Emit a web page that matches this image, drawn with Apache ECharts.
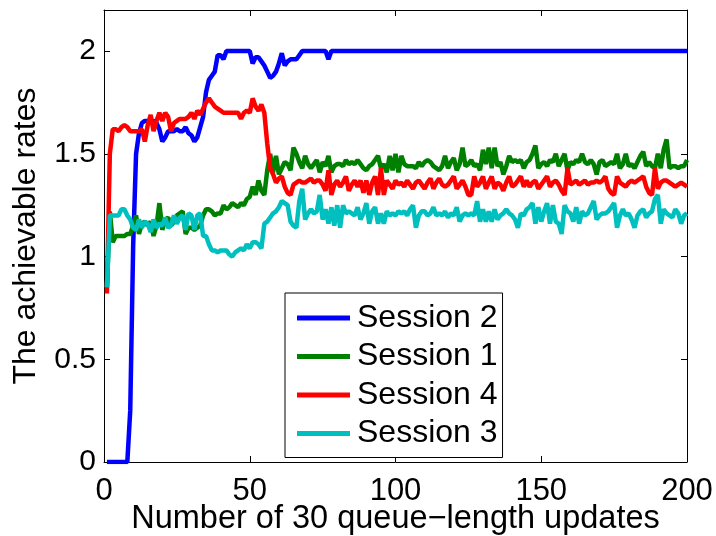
<!DOCTYPE html>
<html>
<head>
<meta charset="utf-8">
<script src="https://cdn.jsdelivr.net/npm/echarts@6.0.0/dist/echarts.min.js"></script>
<style>
  html, body { margin: 0; padding: 0; background: #fff; }
  #chart { width: 716px; height: 536px; }
</style>
</head>
<body>
<div id="chart"></div>
<script>
// achievable rate per session, one value per update step (x = 1..200)
const session2 = [
  0, 0, 0, 0, 0, 0, 0, 0, 0.25, 1.05,
  1.50, 1.60, 1.65, 1.66, 1.66, 1.66, 1.66, 1.65, 1.62, 1.56,
  1.58, 1.61, 1.61, 1.61, 1.62, 1.61, 1.61, 1.63, 1.60, 1.59,
  1.56, 1.58, 1.63, 1.68, 1.80, 1.86, 1.88, 1.90, 1.98, 1.98,
  1.96, 2, 2, 2, 2, 2, 2, 2, 2, 2,
  1.94, 1.97, 1.97, 1.95, 1.93, 1.90, 1.87, 1.88, 1.90, 1.94,
  1.99, 1.93, 1.95, 1.96, 1.96, 1.96, 1.98, 2, 2, 2,
  2, 2, 2, 2, 2, 2, 1.96, 2, 2, 2,
  2, 2, 2, 2, 2, 2, 2, 2, 2, 2,
  2, 2, 2, 2, 2, 2, 2, 2, 2, 2,
  2, 2, 2, 2, 2, 2, 2, 2, 2, 2,
  2, 2, 2, 2, 2, 2, 2, 2, 2, 2,
  2, 2, 2, 2, 2, 2, 2, 2, 2, 2,
  2, 2, 2, 2, 2, 2, 2, 2, 2, 2,
  2, 2, 2, 2, 2, 2, 2, 2, 2, 2,
  2, 2, 2, 2, 2, 2, 2, 2, 2, 2,
  2, 2, 2, 2, 2, 2, 2, 2, 2, 2,
  2, 2, 2, 2, 2, 2, 2, 2, 2, 2,
  2, 2, 2, 2, 2, 2, 2, 2, 2, 2,
  2, 2, 2, 2, 2, 2, 2, 2, 2, 2
];

const session1 = [
  0.85, 1.22, 1.07, 1.10, 1.10, 1.10, 1.10, 1.11, 1.11, 1.15,
  1.20, 1.11, 1.16, 1.17, 1.15, 1.17, 1.10, 1.15, 1.26, 1.13,
  1.18, 1.19, 1.15, 1.17, 1.20, 1.21, 1.22, 1.11, 1.14, 1.14,
  1.13, 1.14, 1.15, 1.20, 1.23, 1.23, 1.22, 1.20, 1.21, 1.21,
  1.25, 1.23, 1.24, 1.26, 1.25, 1.24, 1.26, 1.25, 1.28, 1.29,
  1.34, 1.30, 1.37, 1.32, 1.30, 1.42, 1.50, 1.41, 1.49, 1.40,
  1.43, 1.46, 1.45, 1.42, 1.53, 1.50, 1.46, 1.43, 1.49, 1.45,
  1.43, 1.45, 1.47, 1.41, 1.46, 1.44, 1.49, 1.41, 1.44, 1.45,
  1.45, 1.44, 1.47, 1.45, 1.46, 1.45, 1.47, 1.45, 1.43, 1.42,
  1.44, 1.45, 1.47, 1.49, 1.43, 1.45, 1.41, 1.49, 1.42, 1.50,
  1.41, 1.49, 1.45, 1.44, 1.44, 1.44, 1.43, 1.46, 1.44, 1.46,
  1.47, 1.46, 1.44, 1.43, 1.42, 1.44, 1.49, 1.43, 1.46, 1.48,
  1.42, 1.45, 1.53, 1.44, 1.45, 1.47, 1.44, 1.45, 1.42, 1.52,
  1.45, 1.53, 1.43, 1.53, 1.44, 1.46, 1.40, 1.44, 1.49, 1.46,
  1.47, 1.46, 1.47, 1.43, 1.46, 1.47, 1.50, 1.54, 1.43, 1.45,
  1.46, 1.44, 1.47, 1.46, 1.50, 1.44, 1.47, 1.50, 1.42, 1.46,
  1.45, 1.47, 1.46, 1.50, 1.46, 1.45, 1.47, 1.45, 1.40, 1.46,
  1.47, 1.44, 1.45, 1.46, 1.45, 1.50, 1.43, 1.45, 1.50, 1.44,
  1.45, 1.43, 1.46, 1.49, 1.51, 1.44, 1.46, 1.44, 1.43, 1.50,
  1.43, 1.52, 1.57, 1.43, 1.44, 1.44, 1.43, 1.44, 1.44, 1.47
];

const session4 = [
  0.82, 1.50, 1.62, 1.62, 1.61, 1.63, 1.64, 1.63, 1.61, 1.61,
  1.61, 1.61, 1.62, 1.56, 1.64, 1.69, 1.61, 1.66, 1.70, 1.66,
  1.70, 1.68, 1.61, 1.65, 1.66, 1.67, 1.67, 1.67, 1.68, 1.70,
  1.67, 1.71, 1.69, 1.72, 1.75, 1.77, 1.75, 1.73, 1.72, 1.71,
  1.70, 1.70, 1.70, 1.70, 1.70, 1.70, 1.67, 1.70, 1.71, 1.70,
  1.77, 1.73, 1.71, 1.74, 1.70, 1.55, 1.43, 1.40, 1.36, 1.38,
  1.39, 1.34, 1.31, 1.30, 1.35, 1.36, 1.37, 1.36, 1.36, 1.37,
  1.38, 1.36, 1.37, 1.37, 1.35, 1.32, 1.42, 1.30, 1.35, 1.37,
  1.34, 1.36, 1.39, 1.32, 1.35, 1.37, 1.34, 1.37, 1.31, 1.37,
  1.30, 1.36, 1.39, 1.30, 1.43, 1.30, 1.37, 1.35, 1.33, 1.37,
  1.35, 1.36, 1.34, 1.37, 1.35, 1.33, 1.36, 1.37, 1.35, 1.33,
  1.36, 1.38, 1.33, 1.36, 1.38, 1.35, 1.34, 1.35, 1.37, 1.39,
  1.33, 1.35, 1.37, 1.34, 1.30, 1.30, 1.39, 1.34, 1.36, 1.39,
  1.33, 1.36, 1.39, 1.33, 1.36, 1.35, 1.32, 1.36, 1.39, 1.34,
  1.35, 1.37, 1.39, 1.34, 1.37, 1.34, 1.36, 1.37, 1.33, 1.35,
  1.37, 1.39, 1.34, 1.36, 1.37, 1.35, 1.32, 1.30, 1.43, 1.35,
  1.36, 1.37, 1.35, 1.36, 1.37, 1.35, 1.36, 1.36, 1.37, 1.36,
  1.37, 1.39, 1.33, 1.31, 1.30, 1.39, 1.36, 1.35, 1.34, 1.36,
  1.37, 1.36, 1.37, 1.38, 1.39, 1.34, 1.31, 1.30, 1.43, 1.33,
  1.36, 1.37, 1.37, 1.36, 1.35, 1.34, 1.35, 1.36, 1.35, 1.34
];

const session3 = [
  0.85, 1.20, 1.20, 1.20, 1.20, 1.23, 1.23, 1.20, 1.18, 1.14,
  1.13, 1.18, 1.14, 1.17, 1.16, 1.12, 1.18, 1.14, 1.16, 1.15,
  1.19, 1.14, 1.15, 1.20, 1.16, 1.19, 1.20, 1.13, 1.21, 1.20,
  1.13, 1.20, 1.21, 1.10, 1.10, 1.06, 1.03, 1.03, 1.02, 1.03,
  1.03, 1.03, 1.01, 1.00, 1.02, 1.03, 1.04, 1.03, 1.06, 1.04,
  1.07, 1.07, 1.06, 1.04, 1.16, 1.17, 1.19, 1.21, 1.22, 1.24,
  1.27, 1.26, 1.25, 1.17, 1.15, 1.14, 1.27, 1.33, 1.18, 1.21,
  1.23, 1.21, 1.22, 1.30, 1.18, 1.23, 1.16, 1.24, 1.15, 1.25,
  1.14, 1.25, 1.21, 1.22, 1.21, 1.20, 1.24, 1.18, 1.21, 1.26,
  1.16, 1.22, 1.24, 1.16, 1.21, 1.16, 1.22, 1.20, 1.21, 1.20,
  1.22, 1.21, 1.22, 1.20, 1.23, 1.25, 1.14, 1.20, 1.22, 1.22,
  1.20, 1.21, 1.24, 1.20, 1.21, 1.20, 1.22, 1.19, 1.21, 1.20,
  1.24, 1.17, 1.20, 1.21, 1.20, 1.21, 1.20, 1.27, 1.17, 1.23,
  1.17, 1.22, 1.17, 1.23, 1.18, 1.20, 1.21, 1.23, 1.21, 1.20,
  1.18, 1.14, 1.21, 1.20, 1.23, 1.24, 1.26, 1.16, 1.24, 1.17,
  1.22, 1.26, 1.16, 1.25, 1.17, 1.16, 1.11, 1.25, 1.22, 1.21,
  1.17, 1.24, 1.16, 1.22, 1.20, 1.21, 1.24, 1.27, 1.18, 1.20,
  1.21, 1.21, 1.22, 1.24, 1.26, 1.14, 1.20, 1.23, 1.20, 1.21,
  1.18, 1.14, 1.20, 1.22, 1.23, 1.19, 1.21, 1.22, 1.28, 1.30,
  1.16, 1.23, 1.21, 1.20, 1.19, 1.23, 1.21, 1.16, 1.20, 1.21
];

const seriesNames = ["Session 2", "Session 1", "Session 4", "Session 3"];
const seriesValues = [session2, session1, session4, session3];
const seriesColors = ["#0000ff", "#008000", "#ff0000", "#00bfbf"];

const xTicks = [0, 50, 100, 150, 200];
const yTicks = [0, 0.5, 1, 1.5, 2];

const font = "Liberation Sans, Arial, Helvetica, sans-serif";

const chart = echarts.init(document.getElementById("chart"));

const axisCommon = {
  axisLine: { show: true, onZero: false, lineStyle: { color: "#000", width: 1 } },
  axisTick: { show: true, inside: true, length: 6, lineStyle: { color: "#000", width: 1 } },
  splitLine: { show: false },
};

const option = {
  animation: false,
  backgroundColor: "#fff",
  textStyle: { fontFamily: font },
  // keep the plot box fixed, don't let v6 shrink it to fit the axis name
  grid: { left: 104, right: 29, top: 10, bottom: 74, outerBoundsMode: "none", containLabel: false },
  xAxis: [
    {
      ...axisCommon,
      type: "value",
      position: "bottom",
      min: xTicks[0],
      max: xTicks[xTicks.length - 1],
      interval: 50,
      name: "Number of 30 queue\u2212length updates",
      nameLocation: "middle",
      nameGap: 41,
      nameMoveOverlap: false,
      nameTextStyle: { fontSize: 32.5, color: "#000", fontFamily: font },
      axisLabel: { fontSize: 31, color: "#000", margin: 14, fontFamily: font },
    },
    {
      ...axisCommon,
      type: "value",
      position: "top",
      min: xTicks[0],
      max: xTicks[xTicks.length - 1],
      interval: 50,
      axisLabel: { show: false },
    },
  ],
  yAxis: [
    {
      ...axisCommon,
      type: "value",
      position: "left",
      min: yTicks[0],
      max: 2.2,
      interval: 0.5,
      name: "The achievable rates",
      nameLocation: "middle",
      nameGap: 62,
      nameMoveOverlap: false,
      nameTextStyle: { fontSize: 32, color: "#000", fontFamily: font },
      axisLabel: { fontSize: 30, color: "#000", margin: 8, showMaxLabel: false, fontFamily: font },
    },
    {
      ...axisCommon,
      type: "value",
      position: "right",
      min: yTicks[0],
      max: 2.2,
      interval: 0.5,
      axisLabel: { show: false },
    },
  ],
  legend: {
    data: seriesNames,
    orient: "vertical",
    left: 285,
    top: 293,
    icon: "rect",
    backgroundColor: "#fff",
    borderColor: "#000",
    borderWidth: 1,
    borderRadius: 0,
    padding: [9, 5, 8, 12],
    itemGap: 6.5,
    itemWidth: 53,
    itemHeight: 5,
    textStyle: { fontSize: 32, color: "#000", fontFamily: font, padding: [0, 0, 0, 2] },
  },
  series: seriesNames.map((name, k) => ({
    name: name,
    type: "line",
    xAxisIndex: 0,
    yAxisIndex: 0,
    data: seriesValues[k].map((v, i) => [i + 1, v]),
    symbol: "none",
    showSymbol: false,
    color: seriesColors[k],
    lineStyle: { color: seriesColors[k], width: 4.5 },
  })),
};

chart.setOption(option);
</script>
</body>
</html>
